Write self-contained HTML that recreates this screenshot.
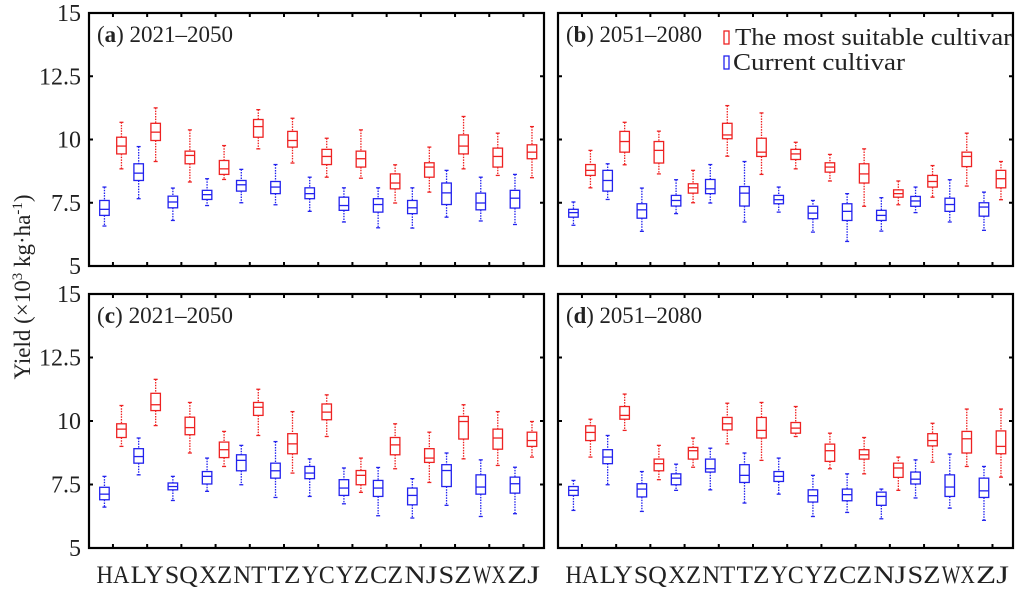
<!DOCTYPE html>
<html><head><meta charset="utf-8"><style>
html,body{margin:0;padding:0;background:#fff;}
svg{display:block;font-family:"Liberation Serif",serif;}
</style></head><body>
<svg id="chart" width="1024" height="590" viewBox="0 0 1024 590" xmlns="http://www.w3.org/2000/svg">
<text transform="translate(30,287) rotate(-90)" text-anchor="middle" font-size="23" fill="#222">Yield (×10<tspan font-size="15" dy="-8">3</tspan><tspan dy="8"> kg·ha</tspan><tspan font-size="15" dy="-8">-1</tspan><tspan dy="8">)</tspan></text>
</svg>
<script>
const categories=["HA","LY","SQ","XZ","NT","TZ","YC","YZ","CZ","NJ","SZ","WX","ZJ"];
const yTicks=[5,7.5,10,12.5,15];
const yTickLabels=["5","7.5","10","12.5","15"];
// each stat: [whiskerTop, boxTop, median, boxBottom, whiskerBottom]
const aCurrent=[[8.12,7.59,7.24,7.0,6.58],[9.72,9.04,8.67,8.38,7.66],[8.08,7.76,7.53,7.30,6.80],[8.45,7.99,7.82,7.63,7.39],[8.82,8.38,8.21,7.96,7.50],[9.01,8.34,8.12,7.86,7.42],[8.51,8.09,7.86,7.66,7.16],[8.09,7.72,7.39,7.20,6.74],[8.09,7.66,7.43,7.13,6.51],[8.09,7.59,7.30,7.07,6.50],[8.78,8.28,7.89,7.43,6.93],[8.51,7.88,7.49,7.22,6.78],[8.62,7.99,7.68,7.29,6.64]];
const aSuitable=[[10.68,10.09,9.74,9.43,8.84],[11.25,10.64,10.29,9.96,9.13],[10.38,9.54,9.37,9.04,8.32],[9.76,9.17,8.84,8.62,8.42],[11.18,10.79,10.51,10.09,9.63],[10.84,10.32,9.96,9.70,9.07],[10.05,9.61,9.33,9.01,8.51],[10.38,9.54,9.24,8.91,8.47],[9.0,8.64,8.28,8.05,7.49],[9.70,9.08,8.91,8.51,7.92],[10.91,10.18,9.74,9.43,8.84],[10.25,9.66,9.33,8.91,8.58],[10.51,9.79,9.50,9.24,8.49]];
const bCurrent=[[7.53,7.24,7.11,6.93,6.61],[9.04,8.78,8.38,7.96,7.63],[8.08,7.46,7.22,6.89,6.37],[8.41,7.79,7.59,7.37,7.07],[9.01,8.42,8.05,7.86,7.49],[9.13,8.14,7.88,7.37,6.74],[8.12,7.79,7.62,7.46,7.13],[7.59,7.36,7.09,6.87,6.34],[7.86,7.46,7.16,6.80,5.97],[7.70,7.20,7.0,6.80,6.38],[8.12,7.75,7.57,7.36,7.11],[8.41,7.68,7.43,7.16,6.74],[7.92,7.50,7.33,6.97,6.41]];
const bSuitable=[[9.57,9.01,8.78,8.58,8.09],[10.68,10.32,9.92,9.50,9.0],[10.33,9.92,9.57,9.07,8.64],[8.78,8.25,8.09,7.88,7.50],[11.34,10.64,10.18,10.03,9.34],[11.05,10.05,9.50,9.33,8.62],[9.89,9.61,9.43,9.21,8.84],[9.41,9.08,8.91,8.71,8.36],[9.63,9.04,8.64,8.28,7.36],[8.36,8.01,7.86,7.72,7.42],[8.97,8.58,8.34,8.12,7.72],[10.25,9.50,9.33,8.93,8.16],[9.13,8.78,8.45,8.09,7.62]];
const cCurrent=[[7.82,7.39,7.12,6.90,6.61],[9.33,8.91,8.60,8.34,7.88],[7.82,7.56,7.42,7.29,6.87],[8.54,8.01,7.82,7.52,7.23],[9.04,8.67,8.45,8.04,7.49],[9.19,8.34,8.04,7.75,6.99],[8.51,8.21,7.95,7.73,7.03],[8.15,7.69,7.36,7.07,6.74],[8.17,7.66,7.36,7.03,6.27],[7.73,7.36,7.07,6.70,6.18],[8.74,8.28,8.05,7.42,6.68],[8.47,7.88,7.40,7.12,6.24],[8.18,7.79,7.53,7.16,6.35]];
const cSuitable=[[10.61,9.89,9.68,9.35,9.0],[11.64,11.09,10.64,10.41,9.82],[10.73,10.15,9.74,9.46,8.74],[9.59,9.17,8.87,8.56,8.21],[11.25,10.73,10.54,10.22,9.43],[10.37,9.50,9.10,8.71,7.95],[11.03,10.67,10.35,10.05,9.39],[8.54,8.05,7.86,7.49,7.19],[9.89,9.35,9.06,8.67,8.12],[9.56,8.91,8.54,8.37,7.58],[10.64,10.18,9.98,9.29,8.51],[10.37,9.68,9.33,8.89,8.25],[9.98,9.56,9.23,9.0,8.58]];
const dCurrent=[[7.66,7.42,7.27,7.07,6.48],[9.43,8.87,8.58,8.32,7.49],[8.01,7.53,7.32,7.01,6.44],[8.30,7.92,7.75,7.49,7.27],[8.93,8.50,8.12,7.99,7.29],[8.74,8.28,7.86,7.58,6.77],[8.54,8.01,7.82,7.62,7.12],[7.86,7.29,7.06,6.81,6.24],[7.92,7.32,7.10,6.86,6.40],[7.32,7.20,7.03,6.68,6.15],[8.47,7.99,7.71,7.52,6.97],[8.70,7.88,7.40,7.03,6.57],[8.21,7.75,7.25,6.99,6.09]];
const dSuitable=[[10.07,9.81,9.55,9.23,8.58],[11.06,10.57,10.22,10.07,9.63],[9.04,8.50,8.32,8.04,7.69],[9.33,8.96,8.83,8.50,8.18],[10.70,10.14,9.89,9.65,9.10],[10.73,10.14,9.63,9.33,8.45],[10.57,9.94,9.72,9.52,9.39],[9.52,9.09,8.83,8.41,8.12],[9.35,8.87,8.67,8.50,7.92],[8.58,8.34,8.15,7.78,7.27],[9.91,9.50,9.23,9.02,8.38],[10.47,9.59,9.30,8.74,8.21],[10.47,9.61,9.0,8.71,7.79]];

const NS="http://www.w3.org/2000/svg";
const svg=document.getElementById('chart');
function mk(tag,attrs,parent){const e=document.createElementNS(NS,tag);for(const k in attrs)e.setAttribute(k,attrs[k]);(parent||svg).appendChild(e);return e;}
const RED="#ee2222",BLUE="#2222ee";
const panels=[
 {id:"a",title:"2021–2050",x0:89,x1:544,y0:13,y1:266,cur:aCurrent,suit:aSuitable,left:true,bottom:false},
 {id:"b",title:"2051–2080",x0:558,x1:1013,y0:13,y1:266,cur:bCurrent,suit:bSuitable,left:false,bottom:false},
 {id:"c",title:"2021–2050",x0:89,x1:544,y0:294,y1:548,cur:cCurrent,suit:cSuitable,left:true,bottom:true},
 {id:"d",title:"2051–2080",x0:558,x1:1013,y0:294,y1:548,cur:dCurrent,suit:dSuitable,left:false,bottom:true}
];
function drawBox(g,cx,st,col,yS){
 const w=9.5;
 const [wt,bt,md,bb,wb]=st.map(yS);
 mk('line',{x1:cx,x2:cx,y1:wt,y2:bt,stroke:col,'stroke-width':1.3,'stroke-dasharray':'1.5,1.2'},g);
 mk('line',{x1:cx,x2:cx,y1:bb,y2:wb,stroke:col,'stroke-width':1.3,'stroke-dasharray':'1.5,1.2'},g);
 mk('line',{x1:cx-2,x2:cx+2,y1:wt,y2:wt,stroke:col,'stroke-width':1.3},g);
 mk('line',{x1:cx-2,x2:cx+2,y1:wb,y2:wb,stroke:col,'stroke-width':1.3},g);
 mk('rect',{x:cx-w/2,y:bt,width:w,height:Math.max(bb-bt,0.5),fill:'none',stroke:col,'stroke-width':1.3},g);
 mk('line',{x1:cx-w/2,x2:cx+w/2,y1:md,y2:md,stroke:col,'stroke-width':1.3},g);
}
panels.forEach(p=>{
 const g=mk('g',{});
 
 
 const yS=v=>p.y1-(v-5)/10*(p.y1-p.y0);
 const step=(p.x1-p.x0)/13.3;
 const xS=i=>p.x0+(i+0.7)*step;
 yTicks.forEach((t,i)=>{
  const y=yS(t);
  if(t>5&&t<15){
   mk('line',{x1:p.x0,x2:p.x0+4,y1:y,y2:y,stroke:'#000','stroke-width':2},g);
   mk('line',{x1:p.x1-4,x2:p.x1,y1:y,y2:y,stroke:'#000','stroke-width':2},g);
  }
  if(p.left){
   const tl=mk('text',{x:p.x0-8,y:y+8,'text-anchor':'end','font-size':24,fill:'#222'},g);
   
   
   tl.textContent=yTickLabels[i];
  }
 });
 categories.forEach((c,i)=>{
  const x=xS(i);
  mk('line',{x1:x,x2:x,y1:p.y0,y2:p.y0+4,stroke:'#000','stroke-width':2},g);
  mk('line',{x1:x,x2:x,y1:p.y1-4,y2:p.y1,stroke:'#000','stroke-width':2},g);
  if(p.bottom){
   const tl=mk('text',{x:x,y:583,'text-anchor':'middle','font-size':25,fill:'#222',textLength:33,lengthAdjust:'spacingAndGlyphs'},g);
   
   
   tl.textContent=c;
  }
  const bc=mk('g',{},g);
  
  
  drawBox(bc,x-8.5,p.cur[i],BLUE,yS);
  const bs=mk('g',{},g);
  
  
  drawBox(bs,x+8.5,p.suit[i],RED,yS);
 });
 const fr=mk('rect',{x:p.x0,y:p.y0,width:p.x1-p.x0,height:p.y1-p.y0,fill:'none',stroke:'#000','stroke-width':2.2},g);
 
 
 const t=mk('text',{x:p.x0+8,y:p.y0+29,'font-size':23,fill:'#222',textLength:136,lengthAdjust:'spacingAndGlyphs'},g);
 
 
 t.innerHTML='(<tspan font-weight="bold">'+p.id+'</tspan>) '+p.title;
});
const lg=mk('g',{});


const e1=mk('g',{},lg);


mk('rect',{x:724,y:31,width:5,height:13,fill:'none',stroke:RED,'stroke-width':1.3},e1);
const t1=mk('text',{x:735,y:45,'font-size':24,fill:'#222',textLength:277,lengthAdjust:'spacingAndGlyphs'},e1);t1.textContent='The most suitable cultivar';
const e2=mk('g',{},lg);


mk('rect',{x:724,y:56,width:5,height:13,fill:'none',stroke:BLUE,'stroke-width':1.3},e2);
const t2=mk('text',{x:733,y:70,'font-size':24,fill:'#222',textLength:172,lengthAdjust:'spacingAndGlyphs'},e2);t2.textContent='Current cultivar';
</script>
</body></html>
